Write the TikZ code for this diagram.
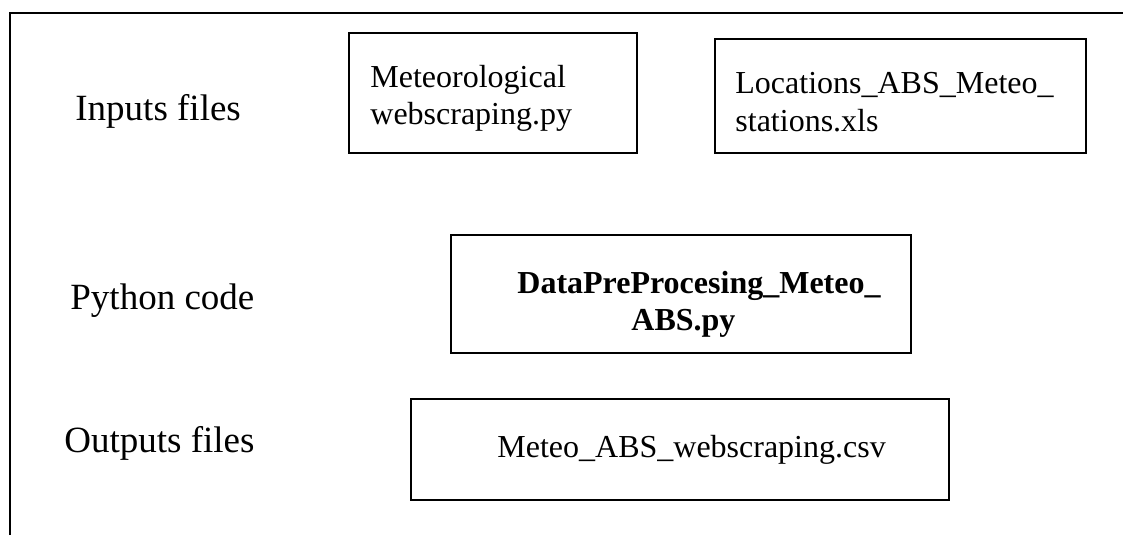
\documentclass[tikz,border=0pt]{standalone}
\usepackage{fontspec}
\setmainfont{Liberation Serif}
\begin{document}
\begin{tikzpicture}[x=0.5pt, y=-0.5pt,
        filebox/.style={draw, line width=0.6pt, rectangle, inner sep=0pt},
        filetext/.style={anchor=west, inner sep=0pt, align=left,
            font=\fontsize{16}{18.5}\selectfont},
        rowlabel/.style={anchor=west, inner sep=0pt, font=\fontsize{18.5}{21}\selectfont}]
        \useasboundingbox (0,0) rectangle (1123,535);
        % frame
        \draw[line width=0.7pt] (10,535) -- (10,13) -- (1123,13);
        % row labels
        \node[rowlabel] (inlbl) at (75,111) {Inputs files};
        \node[rowlabel] (pylbl) at (70,301) {Python code};
        \node[rowlabel] (outlbl) at (64,443) {Outputs files};
        % input files
        \node[filebox, minimum width=144pt, minimum height=60pt] (meteo) at (493,93) {};
        \node[filetext] (meteotxt) at (370,98.5) {Meteorological\\webscraping.py};
        \node[filebox, minimum width=185.5pt, minimum height=57pt] (locs) at (900.5,96) {};
        \node[filetext, font=\fontsize{16}{19}\selectfont] (locstxt) at (735,102)
            {Locations\_ABS\_Meteo\_\\stations.xls};
        % python code
        \node[filebox, minimum width=230pt, minimum height=59pt] (prep) at (681,294) {};
        \node[filetext, font=\fontsize{16}{18.5}\selectfont\bfseries] (preptxt) at (517,304)
            {DataPreProcesing\_Meteo\_\\\hspace*{57pt}ABS.py};
        % output file
        \node[filebox, minimum width=269pt, minimum height=50.5pt] (csv) at (680,449.5) {};
        \node[filetext] (csvtxt) at (497,449.5) {Meteo\_ABS\_webscraping.csv};
    \end{tikzpicture}
\end{document}
